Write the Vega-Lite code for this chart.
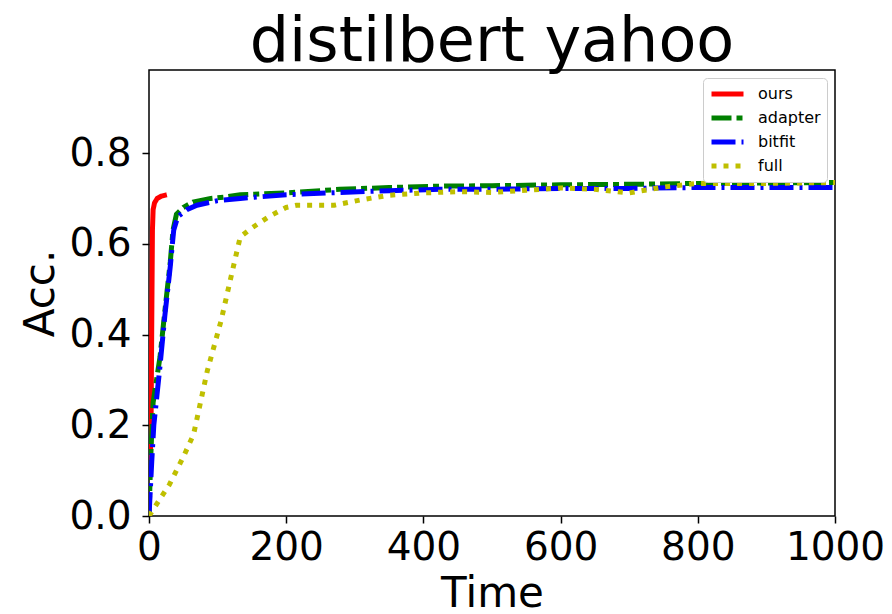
{
  "$schema": "https://vega.github.io/schema/vega-lite/v6.json",
  "width": 686,
  "height": 446,
  "autosize": {"type": "none"},
  "padding": {"left": 149, "top": 70, "right": 57, "bottom": 98},
  "background": "white",
  "config": {
    "font": "DejaVu Sans",
    "view": {"stroke": "black", "strokeWidth": 1.5},
    "axis": {"grid": false, "domain": false, "tickColor": "black", "tickWidth": 1.5, "tickSize": 7, "labelColor": "black", "titleColor": "black", "labelFontSize": 39, "titleFontSize": 42, "titleFontWeight": "normal", "labelFont": "DejaVu Sans", "titleFont": "DejaVu Sans"}
  },
  "title": {"text": "distilbert yahoo", "fontSize": 62, "fontWeight": "normal", "font": "DejaVu Sans", "color": "black", "anchor": "middle", "offset": -4},
  "data": {"values": [
    {"method": "ours", "t": 2, "acc": 0.12},
    {"method": "ours", "t": 3, "acc": 0.2},
    {"method": "ours", "t": 4, "acc": 0.42},
    {"method": "ours", "t": 5, "acc": 0.63},
    {"method": "ours", "t": 6, "acc": 0.675},
    {"method": "ours", "t": 8, "acc": 0.69},
    {"method": "ours", "t": 12, "acc": 0.7},
    {"method": "ours", "t": 18, "acc": 0.705},
    {"method": "ours", "t": 26, "acc": 0.708},
    {"method": "adapter", "t": 0, "acc": 0.0},
    {"method": "adapter", "t": 3, "acc": 0.15},
    {"method": "adapter", "t": 6, "acc": 0.25},
    {"method": "adapter", "t": 16, "acc": 0.35},
    {"method": "adapter", "t": 23, "acc": 0.45},
    {"method": "adapter", "t": 31, "acc": 0.56},
    {"method": "adapter", "t": 35, "acc": 0.63},
    {"method": "adapter", "t": 40, "acc": 0.665},
    {"method": "adapter", "t": 50, "acc": 0.68},
    {"method": "adapter", "t": 64, "acc": 0.692},
    {"method": "adapter", "t": 90, "acc": 0.7},
    {"method": "adapter", "t": 110, "acc": 0.703},
    {"method": "adapter", "t": 133, "acc": 0.708},
    {"method": "adapter", "t": 200, "acc": 0.712},
    {"method": "adapter", "t": 278, "acc": 0.72},
    {"method": "adapter", "t": 350, "acc": 0.724},
    {"method": "adapter", "t": 424, "acc": 0.727},
    {"method": "adapter", "t": 500, "acc": 0.728},
    {"method": "adapter", "t": 600, "acc": 0.73},
    {"method": "adapter", "t": 700, "acc": 0.731},
    {"method": "adapter", "t": 800, "acc": 0.733},
    {"method": "adapter", "t": 900, "acc": 0.734},
    {"method": "adapter", "t": 1000, "acc": 0.735},
    {"method": "bitfit", "t": 0, "acc": 0.0},
    {"method": "bitfit", "t": 4, "acc": 0.12},
    {"method": "bitfit", "t": 7, "acc": 0.2},
    {"method": "bitfit", "t": 16, "acc": 0.33},
    {"method": "bitfit", "t": 23, "acc": 0.44},
    {"method": "bitfit", "t": 31, "acc": 0.55},
    {"method": "bitfit", "t": 36, "acc": 0.63},
    {"method": "bitfit", "t": 42, "acc": 0.66},
    {"method": "bitfit", "t": 55, "acc": 0.675},
    {"method": "bitfit", "t": 70, "acc": 0.685},
    {"method": "bitfit", "t": 100, "acc": 0.695},
    {"method": "bitfit", "t": 133, "acc": 0.7},
    {"method": "bitfit", "t": 200, "acc": 0.708},
    {"method": "bitfit", "t": 278, "acc": 0.713},
    {"method": "bitfit", "t": 350, "acc": 0.717},
    {"method": "bitfit", "t": 424, "acc": 0.72},
    {"method": "bitfit", "t": 500, "acc": 0.72},
    {"method": "bitfit", "t": 600, "acc": 0.722},
    {"method": "bitfit", "t": 700, "acc": 0.722},
    {"method": "bitfit", "t": 800, "acc": 0.724},
    {"method": "bitfit", "t": 900, "acc": 0.724},
    {"method": "bitfit", "t": 1000, "acc": 0.724},
    {"method": "full", "t": 0, "acc": 0.0},
    {"method": "full", "t": 30, "acc": 0.07},
    {"method": "full", "t": 50, "acc": 0.13},
    {"method": "full", "t": 65, "acc": 0.18},
    {"method": "full", "t": 85, "acc": 0.32},
    {"method": "full", "t": 105, "acc": 0.43},
    {"method": "full", "t": 120, "acc": 0.53},
    {"method": "full", "t": 133, "acc": 0.615},
    {"method": "full", "t": 150, "acc": 0.635},
    {"method": "full", "t": 175, "acc": 0.66},
    {"method": "full", "t": 200, "acc": 0.68},
    {"method": "full", "t": 215, "acc": 0.685},
    {"method": "full", "t": 270, "acc": 0.685},
    {"method": "full", "t": 310, "acc": 0.697},
    {"method": "full", "t": 350, "acc": 0.707},
    {"method": "full", "t": 400, "acc": 0.712},
    {"method": "full", "t": 450, "acc": 0.715},
    {"method": "full", "t": 500, "acc": 0.713},
    {"method": "full", "t": 550, "acc": 0.718},
    {"method": "full", "t": 600, "acc": 0.723},
    {"method": "full", "t": 650, "acc": 0.72},
    {"method": "full", "t": 700, "acc": 0.712},
    {"method": "full", "t": 750, "acc": 0.725},
    {"method": "full", "t": 800, "acc": 0.733},
    {"method": "full", "t": 900, "acc": 0.733},
    {"method": "full", "t": 1000, "acc": 0.735}
  ]},
  "mark": {"type": "line", "strokeWidth": 5, "strokeCap": "butt", "clip": true},
  "encoding": {
    "x": {"field": "t", "type": "quantitative", "title": "Time",
      "scale": {"domain": [0, 1000], "nice": false, "zero": false},
      "axis": {"values": [0, 200, 400, 600, 800, 1000], "format": "d", "labelPadding": 5, "titlePadding": 6, "labelFlush": false, "labelOverlap": false}},
    "y": {"field": "acc", "type": "quantitative", "title": "Acc.",
      "scale": {"domain": [0, 0.983], "nice": false},
      "axis": {"values": [0, 0.2, 0.4, 0.6, 0.8], "format": ".1f", "labelPadding": 11, "titlePadding": 6, "labelFlush": false, "labelOverlap": false}},
    "color": {"field": "method", "type": "nominal",
      "scale": {"domain": ["ours", "adapter", "bitfit", "full"], "range": ["#ff0000", "#008000", "#0000ff", "#bfbf00"]},
      "legend": {"title": null, "orient": "top-right", "offset": 8, "labelFontSize": 16, "labelColor": "black", "symbolType": "stroke", "symbolSize": 1024, "symbolStrokeWidth": 5, "fillColor": "white", "strokeColor": "#cccccc", "cornerRadius": 4, "padding": 6, "rowPadding": 4, "clipHeight": 20, "labelOffset": 12}},
    "strokeDash": {"field": "method", "type": "nominal",
      "scale": {"domain": ["ours", "adapter", "bitfit", "full"], "range": [[1, 0], [20, 5, 6, 5], [24, 6, 3, 6], [5, 7]]},
      "legend": null},
    "order": {"field": "t", "type": "quantitative"}
  }
}
